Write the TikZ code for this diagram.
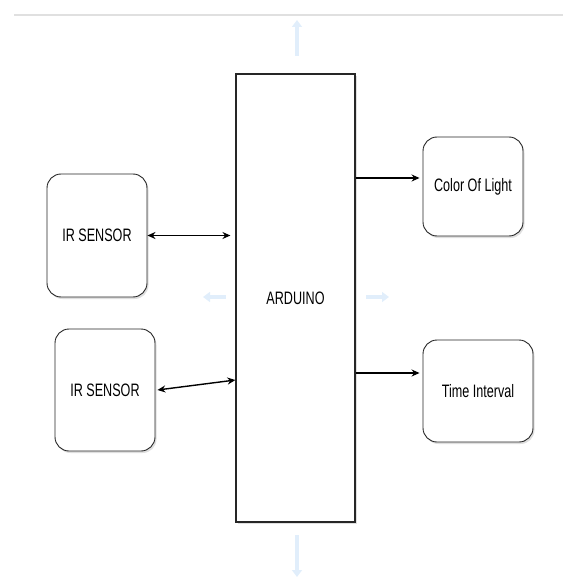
\documentclass[tikz,border=0pt]{standalone}
\usepackage{graphicx}
\usepackage{fontspec}
\setmainfont{Liberation Sans}
\usetikzlibrary{arrows.meta,shadows}
\def\lbl#1{\scalebox{0.7}[1]{\fontsize{18}{21}\selectfont #1}}
\definecolor{hoverblue}{RGB}{225,238,251}

\begin{document}
\begin{tikzpicture}[x=1pt, y=-1pt,
	block/.style={draw=black!85, line width=1.1pt, fill=white, inner sep=0pt, drop shadow={opacity=0.25, shadow xshift=1.5pt, shadow yshift=-2pt}},
	roundbox/.style={block, rounded corners=14pt, line width=0.9pt},
	link/.style={line width=1.4pt, -{Stealth[length=8pt,width=7pt]}},
	duplex/.style={line width=1.4pt, {Stealth[length=8pt,width=7pt]}-{Stealth[length=8pt,width=7pt]}},
	hover/.style={hoverblue, line width=3.5pt, -{Triangle[length=7pt,width=10pt]}}]
			%%%%% START %%%%%
			\useasboundingbox (0, 0) rectangle (563, 580);
			
			\draw[line width=2pt, color=black!12] (14, 15) -- (563, 15);
			
			\node[block, minimum width=119pt, minimum height=448pt] (arduino) at (295.5, 298) {\lbl{ARDUINO}};
			
			\node[roundbox, minimum width=100pt, minimum height=123pt] (ir1) at (97, 235.5) {\lbl{IR SENSOR}};
			\node[roundbox, minimum width=100pt, minimum height=122pt] (ir2) at (105, 390) {\lbl{IR SENSOR}};
			
			\node[roundbox, minimum width=100pt, minimum height=99pt] (light) at (473, 186.5) {\lbl{Color Of Light}};
			\node[roundbox, minimum width=110pt, minimum height=102pt] (time) at (478, 391) {\lbl{Time Interval}};
			
			\draw[duplex, shorten >=5pt] (ir1.east) -- (ir1.east -| arduino.west);
			\draw[duplex] ([xshift=2pt]ir2.east) -- ([yshift=10pt]arduino.west |- ir2.east);
			
			\draw[link, shorten >=3pt] ([yshift=8.5pt]light.west -| arduino.east) -- ([yshift=8.5pt]light.west);
			\draw[link, shorten >=3pt] ([yshift=18pt]time.west -| arduino.east) -- ([yshift=18pt]time.west);
			
			% faint hover arrows
			\draw[hover] (297, 56) -- (297, 20);
			\draw[hover] (297, 535) -- (297, 577);
			\draw[hover] (226, 297) -- (203, 297);
			\draw[hover] (366, 297) -- (389, 297);
			
			%%%%% END %%%%%
		\end{tikzpicture}
\end{document}
